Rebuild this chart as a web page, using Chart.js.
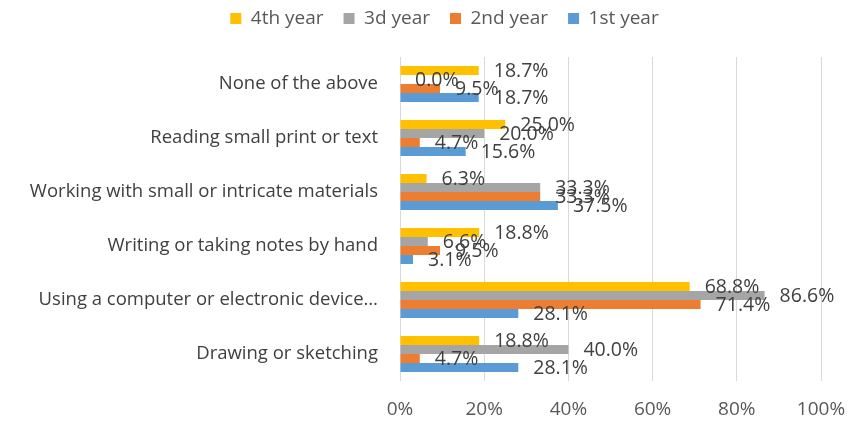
<!DOCTYPE html>
<html><head><meta charset="utf-8">
<script src="https://cdn.jsdelivr.net/npm/chart.js@4/dist/chart.umd.min.js"></script>
<style>html,body{margin:0;padding:0;background:#fff}#wrap{width:848px;height:424px}</style>
</head><body><div id="wrap"><canvas id="c" width="848" height="424"></canvas></div>
<script>
const categories = ["None of the above","Reading small print or text","Working with small or intricate materials","Writing or taking notes by hand","Using a computer or electronic device…","Drawing or sketching"];
const seriesNames = ["4th year","3d year","2nd year","1st year"];
const year4 = [18.7, 25.0, 6.3, 18.8, 68.8, 18.8];
const year3 = [0.0, 20.0, 33.3, 6.6, 86.6, 40.0];
const year2 = [9.5, 4.7, 33.3, 9.5, 71.4, 4.7];
const year1 = [18.7, 15.6, 37.5, 3.1, 28.1, 28.1];
const xTicks = [0, 20, 40, 60, 80, 100];
const colors = ["#FFC000","#A5A5A5","#ED7D31","#5B9BD5"];
const FONT = "'Open Sans', 'Liberation Sans', sans-serif";

const labelPlugin = {
  id: 'barLabels',
  afterDatasetsDraw(chart) {
    const ctx = chart.ctx;
    ctx.save();
    ctx.font = "19.5px " + FONT;
    ctx.fillStyle = "#404040";
    ctx.textBaseline = "middle";
    ctx.textAlign = "left";
    chart.data.datasets.forEach((ds, i) => {
      const meta = chart.getDatasetMeta(i);
      meta.data.forEach((bar, j) => {
        ctx.fillText(ds.data[j].toFixed(1) + "%", bar.x + 15, bar.y + 1);
      });
    });
    ctx.restore();
  }
};

const legendPlugin = {
  id: 'legendAdjust',
  beforeInit(chart) {
    const fit = chart.legend.fit;
    chart.legend.fit = function () { fit.call(this); this.height = 57; };
  },
  afterLayout(chart) {
    const lg = chart.legend;
    lg.left += 34; lg.right += 34;
    lg.top -= 11; lg.bottom -= 11;
  }
};

new Chart(document.getElementById('c'), {
  type: 'bar',
  data: {
    labels: categories,
    datasets: [year4, year3, year2, year1].map((d, i) => ({
      label: seriesNames[i], data: d, backgroundColor: colors[i], borderWidth: 0,
      categoryPercentage: 0.667, barPercentage: 1.0
    }))
  },
  options: {
    indexAxis: 'y',
    responsive: false,
    animation: false,
    devicePixelRatio: 1,
    layout: { padding: { top: 0, right: 27, bottom: 2, left: 0 } },
    plugins: {
      legend: {
        position: 'top',
        labels: { boxWidth: 11, boxHeight: 11, font: { size: 19, family: FONT }, color: '#595959', padding: 20 }
      },
      tooltip: { enabled: false }
    },
    scales: {
      x: {
        min: 0, max: 100,
        afterBuildTicks(scale) { scale.ticks = xTicks.map(v => ({ value: v })); },
        afterFit(scale) { scale.height = 41; scale.paddingRight = 0; scale.paddingLeft = 0; },
        ticks: { callback: v => v + '%', font: { size: 19, family: FONT }, color: '#595959', padding: 17 },
        grid: { color: '#D9D9D9', drawTicks: false, lineWidth: 1 },
        border: { display: false }
      },
      y: {
        afterFit(scale) { scale.width = 400; },
        ticks: { font: { size: 18.5, family: FONT }, color: '#404040', padding: 22 },
        grid: { display: false, drawTicks: false },
        border: { display: false }
      }
    }
  },
  plugins: [labelPlugin, legendPlugin]
});
</script></body></html>
